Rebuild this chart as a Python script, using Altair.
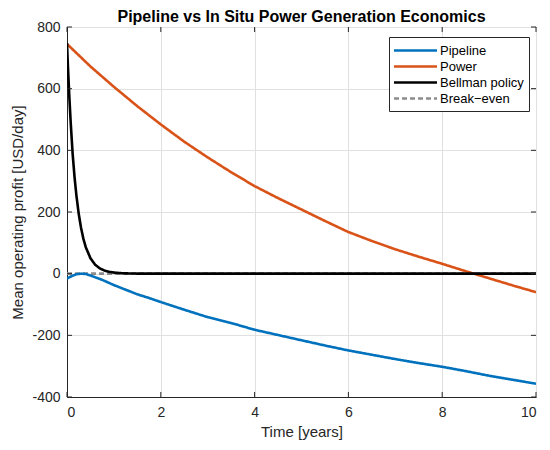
import altair as alt
import pandas as pd

# ---- data ----
pipe_t = [0, 0.1, 0.2, 0.3, 0.4, 0.5, 0.75, 1.0, 1.25, 1.5, 1.75, 2.0, 2.5, 3.0, 3.5,
          4.0, 4.5, 5.0, 5.5, 6.0, 6.5, 7.0, 7.5, 8.0, 8.5, 9.0, 9.5, 10.0]
pipe_v = [-16, -8, -2, 0, -1, -6, -20, -37, -52, -67, -79, -92, -117, -141, -160,
          -182, -199, -216, -233, -249, -263, -277, -290, -302, -316, -331, -344, -357]

power_t = [0, 0.5, 1.0, 1.5, 2.0, 2.5, 3.0, 3.5, 4.0, 4.5, 5.0, 5.5, 6.0, 6.5, 7.0,
           7.5, 8.0, 8.5, 9.0, 9.5, 10.0]
power_v = [745, 672, 606, 543, 484, 428, 377, 329, 284, 245, 208, 171, 135, 106, 79,
           55, 32, 8, -15, -38, -60]

bell_t = [0, 0.02, 0.05, 0.08, 0.12, 0.16, 0.2, 0.25, 0.3, 0.35, 0.4, 0.5, 0.6, 0.7,
          0.8, 0.9, 1.0, 1.2, 1.4, 1.6, 1.8, 2.0, 10.0]
bell_v = [748, 671, 573, 487, 389, 315, 254, 194, 148, 113, 86, 50, 29, 17,
          10, 6, 3.5, 1.2, 0.4, 0.1, 0, 0, 0]

even_t = [0, 10]
even_v = [0, 0]

series_names = ["Pipeline", "Power", "Bellman policy", "Break\u2212even"]
series_colors = ["#0072BD", "#D95319", "#000000", "#8c8c8c"]
series_widths = [2.6, 2.6, 3.2, 1.0]
series_dash = [[1, 0], [1, 0], [1, 0], [5, 3]]

x_ticks = [0, 2, 4, 6, 8, 10]
y_ticks = [-400, -200, 0, 200, 400, 600, 800]

title_text = "Pipeline vs In Situ Power Generation Economics"
x_title = "Time [years]"
y_title = "Mean operating profit [USD/day]"

# ---- table ----
rows = []
for name, ts, vs in [(series_names[0], pipe_t, pipe_v),
                     (series_names[1], power_t, power_v),
                     (series_names[2], bell_t, bell_v),
                     (series_names[3], even_t, even_v)]:
    rows += [{"series": name, "t": t, "v": v} for t, v in zip(ts, vs)]
df = pd.DataFrame(rows)

W, H = 469, 370
FONT = "Liberation Sans"
AX = "#262626"

x_scale = alt.Scale(domain=[0, 10], nice=False)
y_scale = alt.Scale(domain=[-400, 800], nice=False)

legend = alt.Legend(
    title=None, orient="none", legendX=322, legendY=10,
    fillColor="white", strokeColor=AX, padding=5, rowPadding=0,
    labelFont=FONT, labelFontSize=13, labelColor="black",
    symbolType="M-3,0H3", symbolSize=205, symbolOffset=13, labelOffset=16,
)

enc = dict(
    x=alt.X("t:Q", scale=x_scale,
            axis=alt.Axis(values=x_ticks, title=x_title, grid=True, tickSize=0,
                          labelPadding=8, titlePadding=5, format="d")),
    y=alt.Y("v:Q", scale=y_scale,
            axis=alt.Axis(values=y_ticks, title=y_title, grid=True, tickSize=0,
                          labelPadding=7, titlePadding=6,
                          labelExpr="'' + datum.value")),
    color=alt.Color("series:N",
                    scale=alt.Scale(domain=series_names, range=series_colors),
                    legend=legend),
    strokeDash=alt.StrokeDash("series:N",
                              scale=alt.Scale(domain=series_names, range=series_dash),
                              legend=legend),
    strokeWidth=alt.StrokeWidth("series:N",
                                scale=alt.Scale(domain=series_names, range=series_widths),
                                legend=legend),
)

base = alt.Chart(df).mark_line(clip=True).encode(**enc)
order = [series_names[3], series_names[0], series_names[1], series_names[2]]
lines = [base.transform_filter(alt.datum.series == n) for n in order]

# inward ticks (MATLAB style)
xt = pd.DataFrame({"t": x_ticks})
yt = pd.DataFrame({"v": y_ticks})
tick_x_bot = alt.Chart(xt).mark_rule(color=AX, strokeWidth=1).encode(
    x=alt.X("t:Q", scale=x_scale), y=alt.value(H), y2=alt.value(H - 5))
tick_x_top = alt.Chart(xt).mark_rule(color=AX, strokeWidth=1).encode(
    x=alt.X("t:Q", scale=x_scale), y=alt.value(0), y2=alt.value(5))
tick_y_left = alt.Chart(yt).mark_rule(color=AX, strokeWidth=1).encode(
    y=alt.Y("v:Q", scale=y_scale), x=alt.value(0), x2=alt.value(5))
tick_y_right = alt.Chart(yt).mark_rule(color=AX, strokeWidth=1).encode(
    y=alt.Y("v:Q", scale=y_scale), x=alt.value(W), x2=alt.value(W - 5))

chart = alt.layer(*lines, tick_x_bot, tick_x_top, tick_y_left, tick_y_right).properties(
    width=W, height=H,
    background="white",
    title=alt.TitleParams(title_text, font=FONT, fontSize=16, fontWeight="bold",
                          color="black", offset=6, frame="group", dy=11),
    autosize=alt.AutoSizeParams(type="none"),
    padding={"left": 59, "top": 19, "right": 6, "bottom": 45},
).configure_view(
    stroke=AX, strokeWidth=1
).configure_axis(
    labelFont=FONT, labelFontSize=14, labelColor=AX,
    titleFont=FONT, titleFontSize=15, titleFontWeight="normal", titleColor=AX,
    gridColor="#e0e0e0", gridWidth=1, domainColor=AX, domainWidth=1,
)

chart.save("out.html", embed_options={"renderer": "svg", "actions": False})
